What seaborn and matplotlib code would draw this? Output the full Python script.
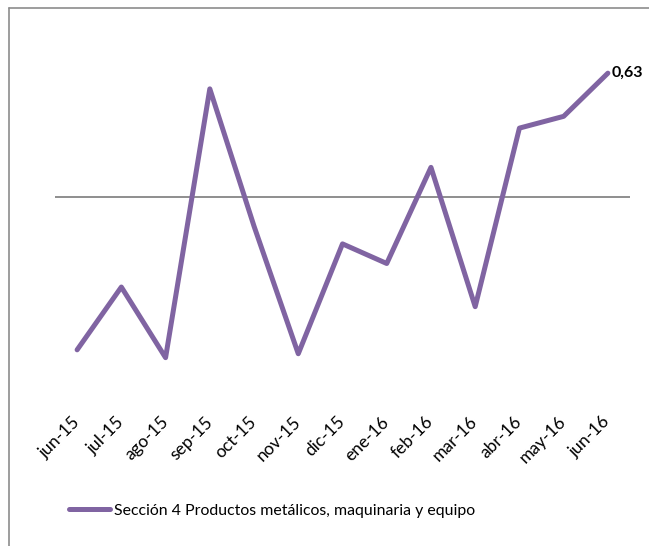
import matplotlib
matplotlib.use('Agg')
import matplotlib.pyplot as plt
from matplotlib.lines import Line2D
import seaborn as sns
import pandas as pd

sns.set_theme(style="white")
plt.rcParams['font.family'] = ['Lato', 'DejaVu Sans']

# data
meses = ['jun-15', 'jul-15', 'ago-15', 'sep-15', 'oct-15', 'nov-15', 'dic-15',
         'ene-16', 'feb-16', 'mar-16', 'abr-16', 'may-16', 'jun-16']
valores = [-0.78, -0.46, -0.82, 0.55, -0.15, -0.80, -0.24,
           -0.34, 0.15, -0.56, 0.35, 0.41, 0.63]
serie = 'Sección 4 Productos metálicos, maquinaria y equipo'

df = pd.DataFrame({'mes': meses, 'valor': valores})

W, H = 649, 546
fig = plt.figure(figsize=(W / 100, H / 100), dpi=100)
# axes in pixel coordinates: left 55, right 630, top 30, bottom 393
ax = fig.add_axes([55 / W, 1 - 393 / H, 575 / W, 363 / H])

color = '#8064A2'
sns.lineplot(data=df, x='mes', y='valor', sort=False, ax=ax, color=color,
             linewidth=3.6, solid_capstyle='round', solid_joinstyle='round',
             label=serie, legend=False)

ax.axhline(0, color='#868686', lw=1.3, zorder=1)
ax.set_xlim(-0.5, len(meses) - 0.5)
ax.set_ylim(-1.0, 0.85)

for s in ax.spines.values():
    s.set_visible(False)
ax.set_yticks([])
ax.set_xlabel('')
ax.set_ylabel('')
ax.set_xticks(range(len(meses)))
ax.set_xticklabels(meses, rotation=45, ha='right', va='center',
                   rotation_mode='anchor', fontsize=12.5, color='black')
ax.tick_params(axis='x', length=0, pad=19)

# last value label
ax.annotate('0,63', xy=(len(meses) - 1, valores[-1]), xytext=(3, 0),
            textcoords='offset points', va='center', ha='left',
            fontsize=11.5, fontweight='bold', color='black', annotation_clip=False)

# chart frame (left and top edges visible)
fig.add_artist(Line2D([9 / W, 9 / W], [0, 1 - 8 / H], color='#8c8c8c', lw=1.2,
                      transform=fig.transFigure))
fig.add_artist(Line2D([9 / W, 1], [1 - 8 / H, 1 - 8 / H], color='#8c8c8c', lw=1.2,
                      transform=fig.transFigure))

handle = Line2D([], [], color=color, lw=3.6, solid_capstyle='round')
fig.legend([handle], [serie], loc='center', bbox_to_anchor=(272 / W, 1 - 511 / H),
           frameon=False, fontsize=11.4, handlelength=2.6, handletextpad=0.2,
           labelcolor='black')

fig.savefig('out.png', dpi=100)
